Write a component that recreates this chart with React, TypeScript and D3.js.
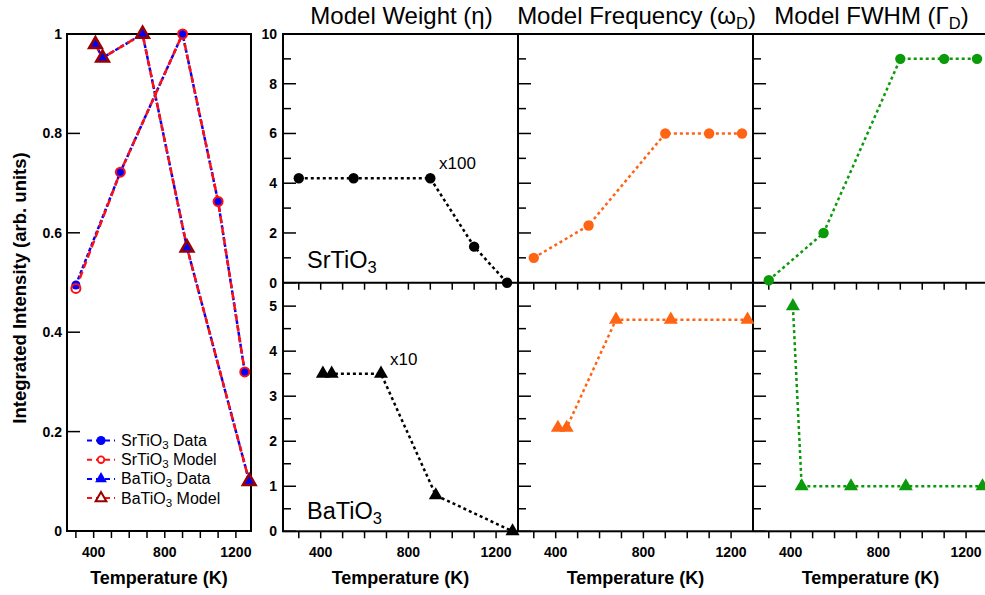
import React from 'react';
import * as d3 from 'd3';

// ---------- data ----------
const srTemps = [300, 550, 900, 1100, 1250];
const baTemps = [410, 450, 675, 925, 1275];

const srIntensityData = [0.495, 0.722, 1.0, 0.663, 0.32];
const srIntensityModel = [0.488, 0.722, 1.0, 0.663, 0.32];
const baIntensityData = [0.979, 0.952, 1.0, 0.57, 0.1];
const baIntensityModel = [0.979, 0.952, 1.0, 0.57, 0.1];

const srWeight = [4.2, 4.2, 4.2, 1.45, 0];
const baWeight = [3.5, 3.5, 3.5, 0.8, 0];
const srFreq = [1.0, 2.3, 6, 6, 6];
const baFreq = [2.3, 2.3, 4.7, 4.7, 4.7];
const srFwhm = [0.1, 2, 9, 9, 9];
const baFwhm = [5, 1, 1, 1, 1];

const xMajorTicks = [400, 800, 1200];
const xMinorTicks = [300, 500, 600, 700, 900, 1000, 1100];
const intensityTicks = [0, 0.2, 0.4, 0.6, 0.8, 1];
const intensityTickLabels = ['0', '0.2', '0.4', '0.6', '0.8', '1'];
const topMajorTicks = [0, 2, 4, 6, 8, 10];
const topMinorTicks = [1, 3, 5, 7, 9];
const botMajorTicks = [0, 1, 2, 3, 4, 5];
const botMinorTicks = [0.5, 1.5, 2.5, 3.5, 4.5];

const panelTitles = ['Model Weight (η', 'Model Frequency (ω', 'Model FWHM (Γ'];
const panelTitleSubs = ['', 'D', 'D'];
const panelColors = ['#000000', '#ff6314', '#0a9a0a'];
const legendLabels = ['Data', 'Model', 'Data', 'Model'];
const legendMaterials = ['SrTiO', 'SrTiO', 'BaTiO', 'BaTiO'];

const FONT = "'Liberation Sans', Arial, Helvetica, sans-serif";

export default function App() {
  const W = 985, H = 595;
  const BLUE = '#0000ff', RED = '#ff1010', DRED = '#990000';

  // left panel
  const lx = d3.scaleLinear().domain([250, 1285]).range([67, 251]);
  const ly = d3.scaleLinear().domain([0, 1]).range([531, 34]);

  // right panels
  const panelLefts = [283, 518, 753];
  const PW = 235;
  const topY = d3.scaleLinear().domain([0, 10]).range([282.7, 34]);
  const botY = d3.scaleLinear().domain([0, 5.52]).range([531.3, 282.7]);
  const px = (i: number) => d3.scaleLinear().domain([228, 1300]).range([panelLefts[i], panelLefts[i] + PW]);

  const srSeries = [srWeight, srFreq, srFwhm];
  const baSeries = [baWeight, baFreq, baFwhm];

  const tri = (size: number) => d3.symbol().type(d3.symbolTriangle).size(size)() as string;

  const lineOf = (xs: number[], ys: number[], sx: any, sy: any) =>
    d3.line<number>().x((_, i) => sx(xs[i])).y((d) => sy(d))(ys) as string;

  const xAxisTicks = (sx: any, y0: number) => (
    <g>
      {[...xMajorTicks, ...xMinorTicks].map((t) => (
        <line key={t} x1={sx(t)} x2={sx(t)} y1={y0} y2={y0 + 7} stroke="#000" strokeWidth={1.5} />
      ))}
    </g>
  );

  return (
    <svg width={W} height={H} style={{ position: 'absolute', left: 0, top: 0, background: '#fff' }} fontFamily={FONT}>
      <rect x={0} y={0} width={W} height={H} fill="#fff" />

      {/* ===== Left panel ===== */}
      <g>
        {intensityTicks.map((t, i) => (
          <g key={t}>
            <line x1={67} x2={80} y1={ly(t)} y2={ly(t)} stroke="#000" strokeWidth={1.5} />
            <text x={62} y={ly(t) + 5} textAnchor="end" fontSize={14} fontWeight="bold">{intensityTickLabels[i]}</text>
          </g>
        ))}
        {xAxisTicks(lx, 531)}
        {xMajorTicks.map((t) => (
          <text key={t} x={lx(t)} y={557} textAnchor="middle" fontSize={14} fontWeight="bold">{t}</text>
        ))}
        <rect x={67} y={34} width={184} height={497} fill="none" stroke="#000" strokeWidth={2} />
        <text x={159} y={584} textAnchor="middle" fontSize={18} fontWeight="bold">Temperature (K)</text>
        <text transform="translate(26,288) rotate(-90)" textAnchor="middle" fontSize={18.5} fontWeight="bold">
          Integrated Intensity (arb. units)
        </text>

        {/* lines */}
        <path d={lineOf(srTemps, srIntensityData, lx, ly)} fill="none" stroke={BLUE} strokeWidth={2.5} strokeDasharray="4,2" />
        <path d={lineOf(baTemps, baIntensityData, lx, ly)} fill="none" stroke={BLUE} strokeWidth={2.5} strokeDasharray="4,2" />
        <path d={lineOf(srTemps, srIntensityModel, lx, ly)} fill="none" stroke={RED} strokeWidth={2.5} strokeDasharray="7,4" />
        <path d={lineOf(baTemps, baIntensityModel, lx, ly)} fill="none" stroke={RED} strokeWidth={2.5} strokeDasharray="7,4" />

        {/* markers */}
        {srTemps.map((t, i) => (
          <circle key={'sd' + t} cx={lx(t)} cy={ly(srIntensityData[i])} r={4.5} fill={BLUE} />
        ))}
        {srTemps.map((t, i) => (
          <circle key={'sm' + t} cx={lx(t)} cy={ly(srIntensityModel[i])} r={4.5} fill="none" stroke={RED} strokeWidth={2} />
        ))}
        {baTemps.map((t, i) => (
          <path key={'bd' + t} d={tri(70)} transform={`translate(${lx(t)},${ly(baIntensityData[i])})`} fill={BLUE} />
        ))}
        {baTemps.map((t, i) => (
          <path key={'bm' + t} d={tri(70)} transform={`translate(${lx(t)},${ly(baIntensityModel[i])})`} fill="none" stroke={DRED} strokeWidth={2.5} />
        ))}

        {/* legend */}
        {legendLabels.map((lab, i) => {
          const y = 440.5 + i * 19.2;
          const isModel = i % 2 === 1;
          const isTri = i >= 2;
          const col = isModel ? RED : BLUE;
          return (
            <g key={i}>
              <line x1={87} x2={115} y1={y} y2={y} stroke={col} strokeWidth={2} strokeDasharray="5,4" />
              {!isTri && !isModel && <circle cx={101} cy={y} r={4.5} fill={BLUE} />}
              {!isTri && isModel && <circle cx={101} cy={y} r={3.3} fill="#fff" stroke={RED} strokeWidth={1.8} />}
              {isTri && !isModel && <path d={tri(60)} transform={`translate(101,${y})`} fill={BLUE} />}
              {isTri && isModel && <path d={tri(50)} transform={`translate(101,${y})`} fill="#fff" stroke={DRED} strokeWidth={2} />}
              <text x={121} y={y + 5.5} fontSize={16}>
                {legendMaterials[i]}
                <tspan fontSize={11.5} dy={3}>3</tspan>
                <tspan dy={-3}> {lab}</tspan>
              </text>
            </g>
          );
        })}
      </g>

      {/* ===== Right panels ===== */}
      {panelLefts.map((left, i) => {
        const sx = px(i);
        return (
          <g key={i}>
            {topMajorTicks.map((t) => (
              <line key={'tM' + t} x1={left} x2={left + 13} y1={topY(t)} y2={topY(t)} stroke="#000" strokeWidth={1.5} />
            ))}
            {topMinorTicks.map((t) => (
              <line key={'tm' + t} x1={left} x2={left + 8} y1={topY(t)} y2={topY(t)} stroke="#000" strokeWidth={1.5} />
            ))}
            {botMajorTicks.map((t) => (
              <line key={'bM' + t} x1={left} x2={left + 13} y1={botY(t)} y2={botY(t)} stroke="#000" strokeWidth={1.5} />
            ))}
            {botMinorTicks.map((t) => (
              <line key={'bm' + t} x1={left} x2={left + 8} y1={botY(t)} y2={botY(t)} stroke="#000" strokeWidth={1.5} />
            ))}
            {xAxisTicks(sx, 282.7)}
            {xAxisTicks(sx, 531.3)}
            {xMajorTicks.map((t) => (
              <text key={t} x={sx(t)} y={557} textAnchor="middle" fontSize={14} fontWeight="bold">{t}</text>
            ))}
            <text x={left + PW / 2} y={584} textAnchor="middle" fontSize={18} fontWeight="bold">Temperature (K)</text>
            <text x={left + PW / 2 + 1} y={24} textAnchor="middle" fontSize={24}>
              {panelTitles[i]}
              {panelTitleSubs[i] ? <tspan fontSize={16.5} dy={5}>{panelTitleSubs[i]}</tspan> : null}
              <tspan dy={panelTitleSubs[i] ? -5 : 0}>)</tspan>
            </text>
          </g>
        );
      })}

      {topMajorTicks.map((t) => (
        <text key={'tl' + t} x={277} y={topY(t) + 5} textAnchor="end" fontSize={14} fontWeight="bold">{t}</text>
      ))}
      {botMajorTicks.map((t) => (
        <text key={'bl' + t} x={277} y={botY(t) + 5} textAnchor="end" fontSize={14} fontWeight="bold">{t}</text>
      ))}

      {/* frames */}
      <rect x={283} y={34} width={710} height={497.3} fill="none" stroke="#000" strokeWidth={2} />
      <line x1={283} x2={993} y1={282.7} y2={282.7} stroke="#000" strokeWidth={2} />
      <line x1={518} x2={518} y1={34} y2={531.3} stroke="#000" strokeWidth={2} />
      <line x1={753} x2={753} y1={34} y2={531.3} stroke="#000" strokeWidth={2} />

      {/* annotations */}
      <text x={307} y={268} fontSize={23.5}>SrTiO<tspan fontSize={16.5} dy={5}>3</tspan></text>
      <text x={307} y={519} fontSize={23.5}>BaTiO<tspan fontSize={16.5} dy={5}>3</tspan></text>
      <text x={439} y={169} fontSize={17}>x100</text>
      <text x={390} y={365} fontSize={17}>x10</text>

      {/* series */}
      {panelLefts.map((left, i) => {
        const sx = px(i);
        const col = panelColors[i];
        return (
          <g key={'s' + i}>
            <path d={lineOf(srTemps, srSeries[i], sx, topY)} fill="none" stroke={col} strokeWidth={2.5} strokeDasharray="3,3" />
            <path d={lineOf(baTemps, baSeries[i], sx, botY)} fill="none" stroke={col} strokeWidth={2.5} strokeDasharray="3,3" />
            {srTemps.map((t, j) => (
              <circle key={'c' + t} cx={sx(t)} cy={topY(srSeries[i][j])} r={5.2} fill={col} />
            ))}
            {baTemps.map((t, j) => (
              <path key={'t' + t} d={tri(85)} transform={`translate(${sx(t)},${botY(baSeries[i][j])})`} fill={col} />
            ))}
          </g>
        );
      })}
    </svg>
  );
}
